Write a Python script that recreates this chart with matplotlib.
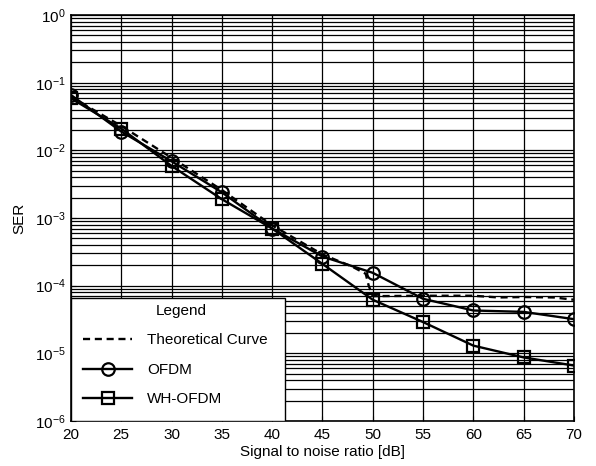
import matplotlib
matplotlib.use("Agg")
import matplotlib.pyplot as plt
from matplotlib.patches import Rectangle
from matplotlib.ticker import LogLocator, NullFormatter

plt.rcParams["font.family"] = ["Liberation Sans", "DejaVu Sans"]
plt.rcParams["mathtext.fontset"] = "custom"
plt.rcParams["mathtext.rm"] = "Liberation Sans"

snr = [20, 25, 30, 35, 40, 45, 50, 55, 60, 65, 70]
ser_ofdm = [0.066, 0.019, 0.0069, 0.0024, 0.0007, 2.7e-4, 1.55e-4, 6.4e-5, 4.3e-5, 4.1e-5, 3.2e-5]
ser_wh = [0.059, 0.021, 0.0059, 0.0019, 0.0007, 2.1e-4, 6.2e-5, 2.9e-5, 1.3e-5, 8.7e-6, 6.6e-6]

snr_theory = [20, 25, 30, 35, 40, 45, 48, 49.3, 49.6, 50, 55, 60, 62.5, 65, 68, 70]
ser_theory = [0.062, 0.023, 0.0078, 0.0026, 0.00078, 2.9e-4, 1.9e-4, 1.5e-4, 1.0e-4, 7.0e-5,
              7.1e-5, 7.1e-5, 6.7e-5, 6.8e-5, 6.7e-5, 6.2e-5]

fig = plt.figure(figsize=(5.96, 4.66), dpi=100)
ax = fig.add_axes([0.119, 0.0966, 0.844, 0.871])

ax.plot(snr_theory, ser_theory, color="black", linestyle=(0, (3, 2)), lw=1.7, label="Theoretical Curve")
ax.plot(snr, ser_ofdm, color="black", lw=1.7, marker="o", markersize=9,
        markerfacecolor="none", markeredgewidth=1.6, label="OFDM")
ax.plot(snr, ser_wh, color="black", lw=1.7, marker="s", markersize=8,
        markerfacecolor="none", markeredgewidth=1.6, label="WH-OFDM")

ax.set_yscale("log")
ax.set_xlim(20, 70)
ax.set_ylim(1e-6, 1)
ax.set_xticks(range(20, 71, 5))
ax.yaxis.set_major_locator(LogLocator(base=10, numticks=10))
ax.yaxis.set_minor_locator(LogLocator(base=10, subs=range(2, 10), numticks=10))
ax.yaxis.set_minor_formatter(NullFormatter())
ax.grid(True, which="major", color="black", lw=0.9)
ax.grid(True, which="minor", axis="y", color="black", lw=0.9)
ax.tick_params(which="both", direction="in", labelsize=11)
ax.tick_params(axis="y", pad=4)
ax.tick_params(axis="x", pad=5)
for s in ax.spines.values():
    s.set_linewidth(1.2)

ax.set_xlabel("Signal to noise ratio [dB]", fontsize=11, labelpad=2)
ax.set_ylabel("SER", fontsize=11, labelpad=6)

# legend box drawn by hand so it spans the lower-left corner like the original
box_w, box_h = 0.425, 0.304
ax.add_patch(Rectangle((0, 0), box_w, box_h, transform=ax.transAxes, facecolor="white",
                       edgecolor="black", lw=1.0, zorder=4))
leg = ax.legend(loc="upper left", bbox_to_anchor=(0.012, box_h, box_w - 0.012, 0), mode="expand",
                title="Legend", fontsize=11, title_fontsize=11, borderaxespad=0,
                handlelength=3.2, labelspacing=1.02, handletextpad=1.0,
                frameon=False, borderpad=0.4)
leg.set_zorder(5)

fig.savefig("out.png", dpi=100)
